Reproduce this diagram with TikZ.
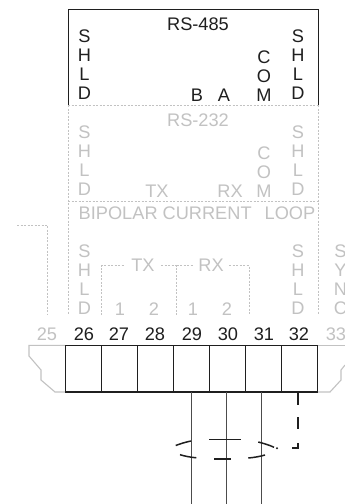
\documentclass[tikz,border=0pt]{standalone}
\usepackage{fontspec}
\setmainfont{Liberation Sans}
\definecolor{fade}{gray}{0.76}
\definecolor{ink}{gray}{0.12}
\tikzset{
 px/.style={x=1pt,y=-1pt},
 lab/.style={font=\fontsize{18.2}{20}\selectfont,inner sep=0pt,text=ink},
 flab/.style={lab,text=fade},
 vlab/.style={align=center,inner sep=0pt,font=\fontsize{18.2}{19}\selectfont,text=ink,anchor=south},
 fvlab/.style={vlab,text=fade},
 dots/.style={draw=fade,line width=0.7pt,dash pattern=on 2pt off 1.5pt},
 box/.style={draw=ink,line width=1.2pt},
 wire/.style={draw=black!70,line width=0.9pt},
 shield/.style={draw=ink,line width=1.5pt},
 gbody/.style={draw=fade,line width=1.1pt}
}
\begin{document}
\begin{tikzpicture}[px]
\useasboundingbox (0,0) rectangle (345,504);
\fill[white] (0,0) rectangle (345,504);
% frames
\coordinate (tl) at (68,105); \coordinate (tr) at (318,105);
\draw[draw=ink,line width=0.8pt] (tl) -- (68,9.5) -- (318,9.5) -- (tr);
\draw[dots] (tl) -- (tr);
\draw[dots] (68,201) -- (318,201);
\draw[dots] (tl) -- (68,315);
\draw[dots] (tr) -- (318,315);
\draw[dots] (17,225) -- (47.5,225) -- (47.5,315);
\draw[dots] (101,315) -- (101,265.5) -- (125,265.5);
\draw[dots] (161,265.5) -- (176.5,265.5) -- (176.5,315);
\draw[dots] (176.5,265.5) -- (193,265.5);
\draw[dots] (229,265.5) -- (249,265.5) -- (249,315);
% RS-485
\node[lab] (r485) at (198,24) {RS-485};
\node[vlab] (s1) at (84.5,99.3) {S\\H\\L\\D};
\node[vlab] (s2) at (298,99.3) {S\\H\\L\\D};
\node[vlab] (com) at (264,101.3) {C\\O\\M};
\node[lab,anchor=south] (b) at (197,101.7) {B};
\node[lab,anchor=south] (a) at (224,101.7) {A};
% RS-232
\node[flab] (r232) at (198,120) {RS-232};
\node[fvlab] (s3) at (84.5,195.3) {S\\H\\L\\D};
\node[fvlab] (s4) at (298,195.3) {S\\H\\L\\D};
\node[fvlab] (com2) at (264,197.3) {C\\O\\M};
\node[flab,anchor=south] (tx) at (157,197.5) {TX};
\node[flab,anchor=south] (rx) at (230,197.5) {RX};
% Bipolar
\node[flab] (bcl) at (197,213) {BIPOLAR CURRENT\hspace{13pt}LOOP};
\node[fvlab] (s5) at (84.5,315) {S\\H\\L\\D};
\node[fvlab] (s6) at (298,315) {S\\H\\L\\D};
\node[fvlab] (sync) at (340.5,315) {S\\Y\\N\\C};
\node[flab] (tx2) at (143,265.5) {TX};
\node[flab] (rx2) at (211,265.5) {RX};
\node[flab,anchor=south] (n1) at (120,316) {1};
\node[flab,anchor=south] (n2) at (154,316) {2};
\node[flab,anchor=south] (n3) at (193,316) {1};
\node[flab,anchor=south] (n4) at (227,316) {2};
% numbers
\node[flab,anchor=south] (t25) at (47,341) {25};
\node[lab,anchor=south] (t26) at (84,341) {26};
\node[lab,anchor=south] (t27) at (119,341) {27};
\node[lab,anchor=south] (t28) at (155,341) {28};
\node[lab,anchor=south] (t29) at (192,341) {29};
\node[lab,anchor=south] (t30) at (228,341) {30};
\node[lab,anchor=south] (t31) at (264,341) {31};
\node[lab,anchor=south] (t32) at (299,341) {32};
\node[flab,anchor=south] (t33) at (336,341) {33};
% block
\draw[gbody] (65,345.3) -- (29,345.3) -- (29,356) -- (41,370) -- (41,380) -- (55,392) -- (65,392);
\draw[gbody] (318,345.3) -- (345,345.3);
\draw[gbody] (318,392) -- (330,392) -- (341,380) -- (341,370) -- (345,365);
\draw[box] (65.5,345.3) rectangle (317.5,392);
\foreach \x in {101.3,137.4,173.4,209.4,245.4,281.4}{\draw[box] (\x,345.3) -- (\x,392);}
% wires
\draw[wire] (191.4,392) -- (191.4,503.5);
\draw[wire] (226,392) -- (226,503.5);
\draw[wire] (261.7,392) -- (261.7,503.5);
\draw[shield,line width=1.9pt] (297.7,392) -- (297.7,405);
\draw[shield,line width=1.9pt] (297.7,417) -- (297.7,429);
\draw[shield,line width=1.9pt] (297.7,443) -- (297.7,448.3) -- (291.5,448.3);
\fill[ink] (277,448.3) circle (1.1pt);
\draw[shield] (175.7,445.5) .. controls (181,443.5) and (186,442) .. (191,441);
\draw[shield] (209,439.3) -- (240.7,439.3);
\draw[shield] (258.3,442) .. controls (264,443.5) and (270,445.3) .. (274,447.3);
\draw[shield] (180,454.7) .. controls (185,456.2) and (190,457.2) .. (196.3,457.8);
\draw[shield] (214,459) -- (231,459);
\draw[shield] (248.3,458) .. controls (254,457.5) and (260,456.5) .. (265,455);
\end{tikzpicture}
\end{document}
